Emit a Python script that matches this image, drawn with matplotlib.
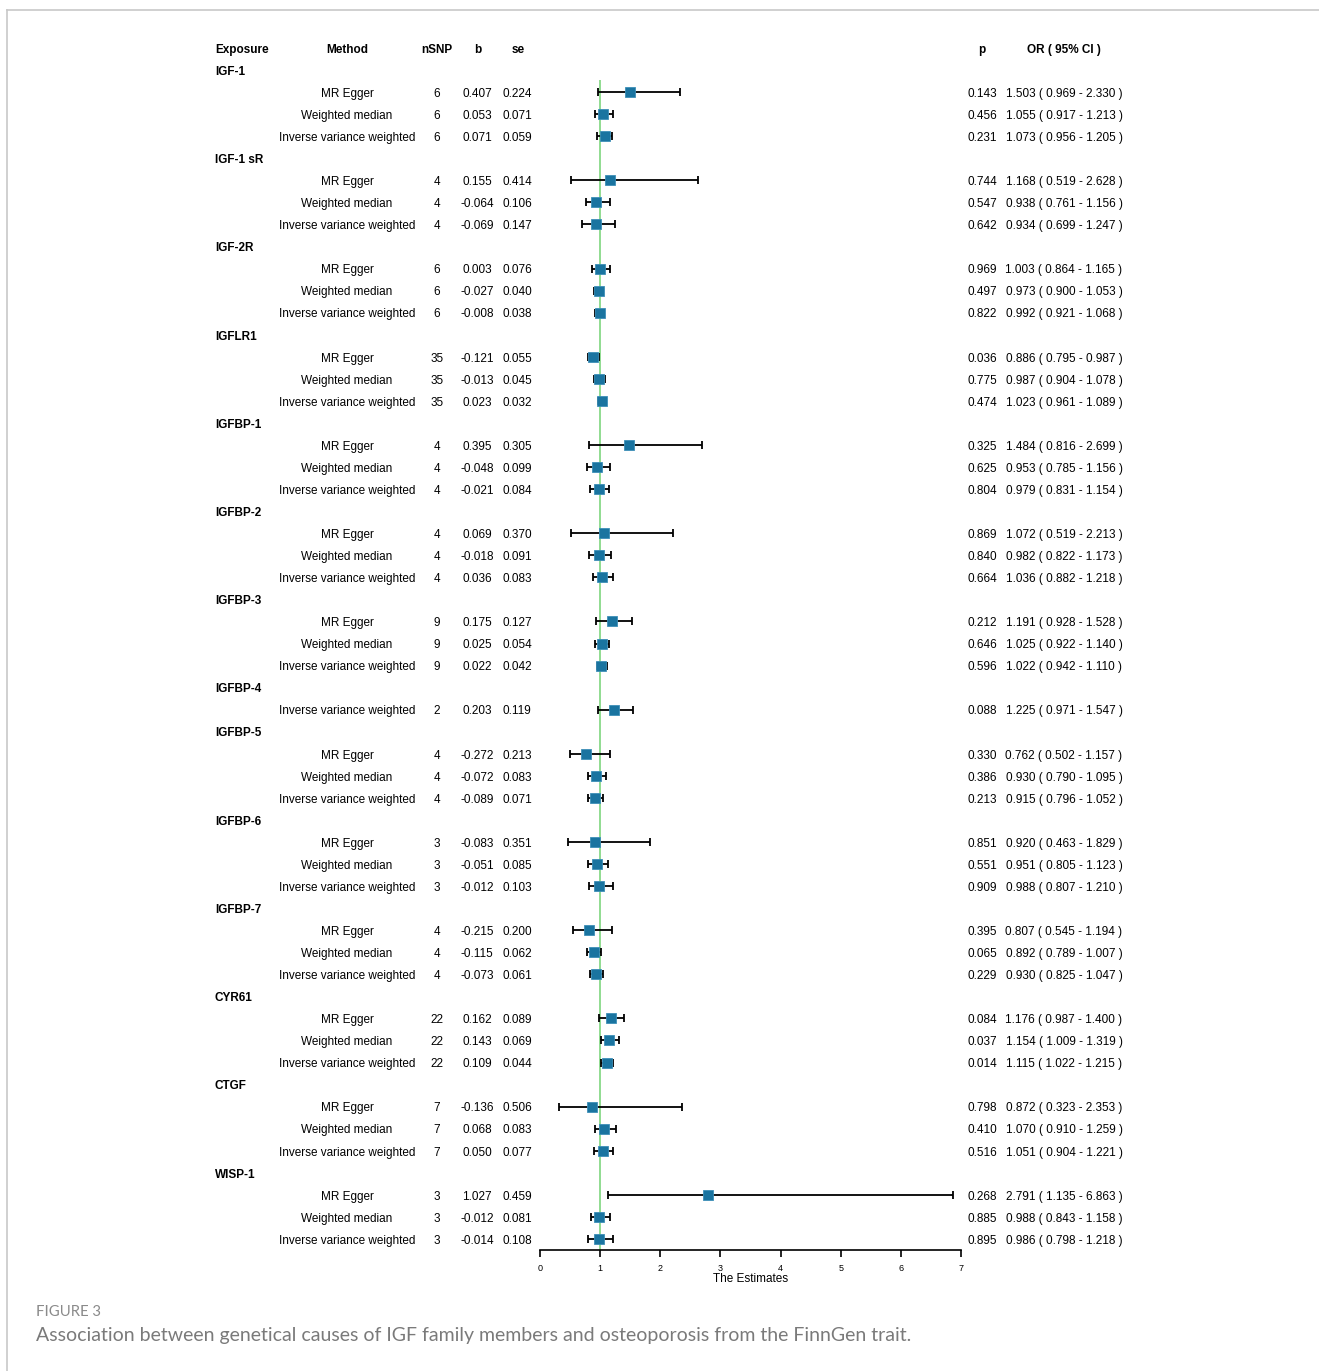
import matplotlib.pyplot as plt
from matplotlib import transforms
from matplotlib.lines import Line2D

plt.rcParams['font.family'] = ['Liberation Sans', 'DejaVu Sans']

# MR results for each IGF family member
exposures = ["IGF-1", "IGF-1 sR", "IGF-2R", "IGFLR1", "IGFBP-1", "IGFBP-2", "IGFBP-3",
             "IGFBP-4", "IGFBP-5", "IGFBP-6", "IGFBP-7", "CYR61", "CTGF", "WISP-1"]
n_methods = [3, 3, 3, 3, 3, 3, 3, 1, 3, 3, 3, 3, 3, 3]

EG, WM, IVW = "MR Egger", "Weighted median", "Inverse variance weighted"
methods = [EG, WM, IVW] * 7 + [IVW] + [EG, WM, IVW] * 6
nsnp = [6, 6, 6, 4, 4, 4, 6, 6, 6, 35, 35, 35, 4, 4, 4, 4, 4, 4, 9, 9, 9, 2,
        4, 4, 4, 3, 3, 3, 4, 4, 4, 22, 22, 22, 7, 7, 7, 3, 3, 3]
b = [0.407, 0.053, 0.071, 0.155, -0.064, -0.069, 0.003, -0.027, -0.008,
     -0.121, -0.013, 0.023, 0.395, -0.048, -0.021, 0.069, -0.018, 0.036,
     0.175, 0.025, 0.022, 0.203, -0.272, -0.072, -0.089, -0.083, -0.051, -0.012,
     -0.215, -0.115, -0.073, 0.162, 0.143, 0.109, -0.136, 0.068, 0.050,
     1.027, -0.012, -0.014]
se = [0.224, 0.071, 0.059, 0.414, 0.106, 0.147, 0.076, 0.040, 0.038,
      0.055, 0.045, 0.032, 0.305, 0.099, 0.084, 0.370, 0.091, 0.083,
      0.127, 0.054, 0.042, 0.119, 0.213, 0.083, 0.071, 0.351, 0.085, 0.103,
      0.200, 0.062, 0.061, 0.089, 0.069, 0.044, 0.506, 0.083, 0.077,
      0.459, 0.081, 0.108]
pval = [0.143, 0.456, 0.231, 0.744, 0.547, 0.642, 0.969, 0.497, 0.822,
        0.036, 0.775, 0.474, 0.325, 0.625, 0.804, 0.869, 0.840, 0.664,
        0.212, 0.646, 0.596, 0.088, 0.330, 0.386, 0.213, 0.851, 0.551, 0.909,
        0.395, 0.065, 0.229, 0.084, 0.037, 0.014, 0.798, 0.410, 0.516,
        0.268, 0.885, 0.895]
odds = [1.503, 1.055, 1.073, 1.168, 0.938, 0.934, 1.003, 0.973, 0.992,
        0.886, 0.987, 1.023, 1.484, 0.953, 0.979, 1.072, 0.982, 1.036,
        1.191, 1.025, 1.022, 1.225, 0.762, 0.930, 0.915, 0.920, 0.951, 0.988,
        0.807, 0.892, 0.930, 1.176, 1.154, 1.115, 0.872, 1.070, 1.051,
        2.791, 0.988, 0.986]
ci_low = [0.969, 0.917, 0.956, 0.519, 0.761, 0.699, 0.864, 0.900, 0.921,
          0.795, 0.904, 0.961, 0.816, 0.785, 0.831, 0.519, 0.822, 0.882,
          0.928, 0.922, 0.942, 0.971, 0.502, 0.790, 0.796, 0.463, 0.805, 0.807,
          0.545, 0.789, 0.825, 0.987, 1.009, 1.022, 0.323, 0.910, 0.904,
          1.135, 0.843, 0.798]
ci_high = [2.330, 1.213, 1.205, 2.628, 1.156, 1.247, 1.165, 1.053, 1.068,
           0.987, 1.078, 1.089, 2.699, 1.156, 1.154, 2.213, 1.173, 1.218,
           1.528, 1.140, 1.110, 1.547, 1.157, 1.095, 1.052, 1.829, 1.123, 1.210,
           1.194, 1.007, 1.047, 1.400, 1.319, 1.215, 2.353, 1.259, 1.221,
           6.863, 1.158, 1.218]

W, H = 1319, 1371
fig = plt.figure(figsize=(W / 100, H / 100), dpi=100)

# forest panel: x 0..7 spans px 540..961, one text line per 22 px
ax = fig.add_axes([540 / W, (H - 1250) / H, 421 / W, 1213 / H])
ax.set_xlim(0, 7)
ax.set_ylim(53.5, -1.5)

# line index of each exposure header and each result row
head_y, row_y = [], []
line = 0
for n in n_methods:
    head_y.append(line)
    line += 1
    for _ in range(n):
        row_y.append(line)
        line += 1

ax.vlines(1, 0.45, 53.5, color='#7ed67e', lw=1.2, zorder=1)
ax.errorbar(odds, row_y,
            xerr=[[o - l for o, l in zip(odds, ci_low)],
                  [h - o for o, h in zip(odds, ci_high)]],
            fmt='none', ecolor='black', elinewidth=1.3, capsize=3.2,
            capthick=1.3, zorder=2)
ax.plot(odds, row_y, 's', color='#1a74a0', markersize=7.5,
        markeredgecolor='#3d8fb8', markeredgewidth=0.6, zorder=3)

for s in ['top', 'right', 'left']:
    ax.spines[s].set_visible(False)
ax.spines['bottom'].set_linewidth(1.2)
ax.set_yticks([])
ax.set_xticks(range(8))
ax.tick_params(axis='x', length=5, width=1.2, labelsize=6.5, pad=5)
ax.set_xlabel("The Estimates", fontsize=8.5, labelpad=0)

# table columns, placed in figure-x / data-y coordinates
tr = transforms.blended_transform_factory(fig.transFigure, ax.transData)
fs = 8.45
dy = 0.08

def col(px, y, s, ha='center', bold=False):
    fig.text(px / W, y + dy, s, transform=tr, ha=ha, va='center', fontsize=fs,
             fontweight='bold' if bold else 'normal')

for px, s, ha in [(215, "Exposure", 'left'), (347, "Method", 'center'),
                  (437, "nSNP", 'center'), (478, "b", 'center'),
                  (518, "se", 'center'), (982, "p", 'center'),
                  (1064, "OR ( 95% CI )", 'center')]:
    col(px, -1, s, ha=ha, bold=True)

for name, y in zip(exposures, head_y):
    col(215, y, name, ha='left', bold=True)

for i, y in enumerate(row_y):
    col(347, y, methods[i])
    col(437, y, str(nsnp[i]))
    col(477, y, f"{b[i]:.3f}")
    col(517, y, f"{se[i]:.3f}")
    col(982, y, f"{pval[i]:.3f}")
    col(1064, y, f"{odds[i]:.3f} ( {ci_low[i]:.3f} - {ci_high[i]:.3f} )")

# page frame and caption
fig.add_artist(Line2D([6.5 / W, 1], [1 - 9.5 / H, 1 - 9.5 / H],
                      color='#c8c8c8', lw=1.2, transform=fig.transFigure))
fig.add_artist(Line2D([6.5 / W, 6.5 / W], [0, 1 - 9.5 / H],
                      color='#c8c8c8', lw=1.2, transform=fig.transFigure))
fig.text(36 / W, 1 - 1312 / H, "FIGURE 3", fontsize=10.7, color='#8a8a8a',
         family=['Lato', 'DejaVu Sans'], va='center', ha='left')
fig.text(36 / W, 1 - 1335 / H,
         "Association between genetical causes of IGF family members and "
         "osteoporosis from the FinnGen trait.",
         fontsize=14, color='#7a7a7a', family=['Lato', 'DejaVu Sans'],
         va='center', ha='left')

fig.savefig("out.png", dpi=100)
